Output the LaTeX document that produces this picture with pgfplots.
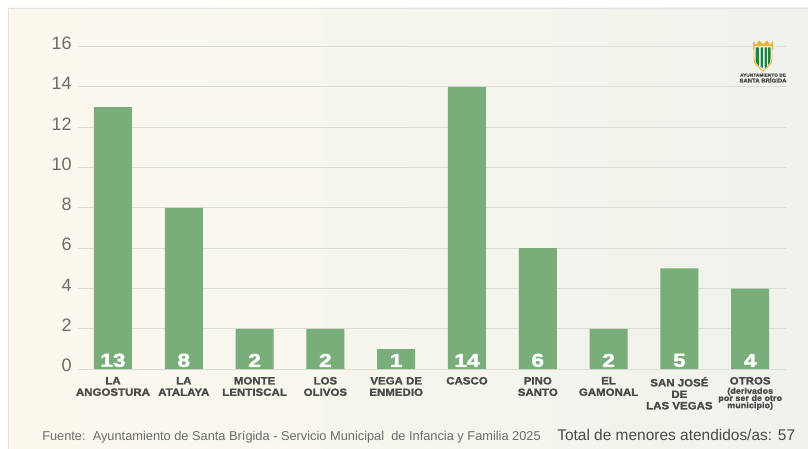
\documentclass[border=0pt]{standalone}
\usepackage{pgfplots}
\pgfplotsset{compat=1.18}
\usepackage{fontspec}
\setmainfont{Liberation Sans}
\newfontfamily\catfont[FakeStretch=1.08,FakeBold=1.8,LetterSpace=0.8]{Liberation Sans Bold}
\newfontfamily\valfont[FakeStretch=1.22,FakeBold=2]{Liberation Sans Bold}
\definecolor{barg}{HTML}{79AD79}
\definecolor{gridc}{HTML}{DCDCD8}
\definecolor{tickc}{HTML}{6C6C6C}
\definecolor{catc}{HTML}{4A4A4A}
\definecolor{bgl}{HTML}{FDF8EE}
\definecolor{bgr}{HTML}{EFF3EC}
\definecolor{edgec}{HTML}{E2E2E2}
\definecolor{gold}{HTML}{E8B23C}
\definecolor{shield}{HTML}{1E8246}
\newcommand\otrosfont{\fontsize{6.2pt}{6.4pt}\selectfont}
\newcommand\otros{OTROS\\[-1.6pt]\otrosfont(derivados\\[-3.2pt]\otrosfont por ser de otro\\[-3.2pt]\otrosfont municipio)}
\begin{document}
\begin{tikzpicture}[x=0.75pt,y=0.75pt]
% page and panel (coordinates are reference pixels, y measured from the bottom)
\path[use as bounding box] (0,0) rectangle (808,449);
\fill[white] (0,0) rectangle (808,449);
\shade[left color=bgl,right color=bgr] (8,0) rectangle (808,441);
\draw[edgec,line width=1.2pt] (8.5,0) -- (8.5,440.5) -- (808,440.5);
\coordinate (axisorigin) at (78,79.8);
\begin{axis}[
  at={(axisorigin)},anchor=south west,
  scale only axis,width=531pt,height=242pt,
  xmin=-0.494,xmax=9.506,ymin=0,ymax=16,
  axis line style={draw=none},
  clip=false,
  major tick length=0pt,
  ymajorgrids,grid style={gridc,line width=0.75pt},
  ytick={0,2,4,6,8,10,12,14,16},
  xtick={0,1,2,3,4,5,6,7,8,9},
  xticklabels={{LA\\ANGOSTURA},{LA\\ATALAYA},{MONTE\\LENTISCAL},{LOS\\OLIVOS},{VEGA DE\\ENMEDIO},{CASCO},{PINO\\SANTO},{EL\\GAMONAL},{SAN JOSÉ\\DE\\LAS VEGAS},{\otros}},
  /pgf/number format/assume math mode=true,
  yticklabel style={font=\fontsize{13.5pt}{13.5pt}\selectfont,text=tickc,yshift=2.6pt,xshift=-2.5pt,inner sep=2pt},
  xticklabel style={font=\catfont\fontsize{7.9pt}{8.6pt}\selectfont,text=catc,align=center,anchor=north,yshift=-3.7pt,inner sep=2pt},
]
\addplot[ybar,bar width=28.5pt,fill=barg,draw=none] coordinates {(0,13)(1,8)(2,2)(3,2)(4,1)(5,14)(6,6)(7,2)(8,5)(9,4)};
\addplot[only marks,mark=none,point meta=explicit symbolic,
  nodes near coords,
  nodes near coords style={anchor=south,inner sep=0pt,yshift=1.5pt,text=white,font=\valfont\fontsize{14pt}{14pt}\selectfont}]
  coordinates {(0,0)[13](1,0)[8](2,0)[2](3,0)[2](4,0)[1](5,0)[14](6,0)[6](7,0)[2](8,0)[5](9,0)[4]};
\end{axis}
% footer
\node[anchor=base west,inner sep=0pt,text=tickc,font=\fontsize{9.6pt}{10pt}\selectfont] at (42,8.5) {Fuente:\ \ Ayuntamiento de Santa Brígida - Servicio Municipal\ \ de Infancia y Familia 2025};
\node[anchor=base west,inner sep=0pt,text=catc,font=\fontsize{11.6pt}{12pt}\selectfont] at (557,8.5) {Total de menores atendidos/as: 57};
% logo
\fill[gold] (753,399) -- (753,408) -- (756,404) -- (759,408.5) -- (763,404.5) -- (767,408.5) -- (770,404) -- (773,408) -- (773,399) -- cycle;
\draw[gold,fill=white,line width=0.7pt] (754,403) -- (772,403) -- (772,390) .. controls (772,384) and (767,382) .. (763,378) .. controls (759,382) and (754,384) .. (754,390) -- cycle;
\fill[shield] (755.5,401.5) -- (759,401.5) -- (759,383) .. controls (757,384.5) and (755.5,386) .. (755.5,390) -- cycle;
\fill[shield] (760.5,401.5) -- (763,401.5) -- (763,381) -- (760.5,382) -- cycle;
\fill[shield] (764.5,401.5) -- (767,401.5) -- (767,382) -- (764.5,381) -- cycle;
\fill[shield] (768,401.5) -- (770.5,401.5) -- (770.5,390) .. controls (770.5,386) and (769.5,385) .. (768,384) -- cycle;
\node[anchor=base,inner sep=0pt,text=catc,font=\catfont\fontsize{3.3pt}{4pt}\selectfont] at (763,372.3) {AYUNTAMIENTO DE};
\node[anchor=base,inner sep=0pt,text=catc,font=\catfont\fontsize{4.1pt}{5pt}\selectfont] at (763,366.5) {SANTA BRÍGIDA};
\end{tikzpicture}
\end{document}
